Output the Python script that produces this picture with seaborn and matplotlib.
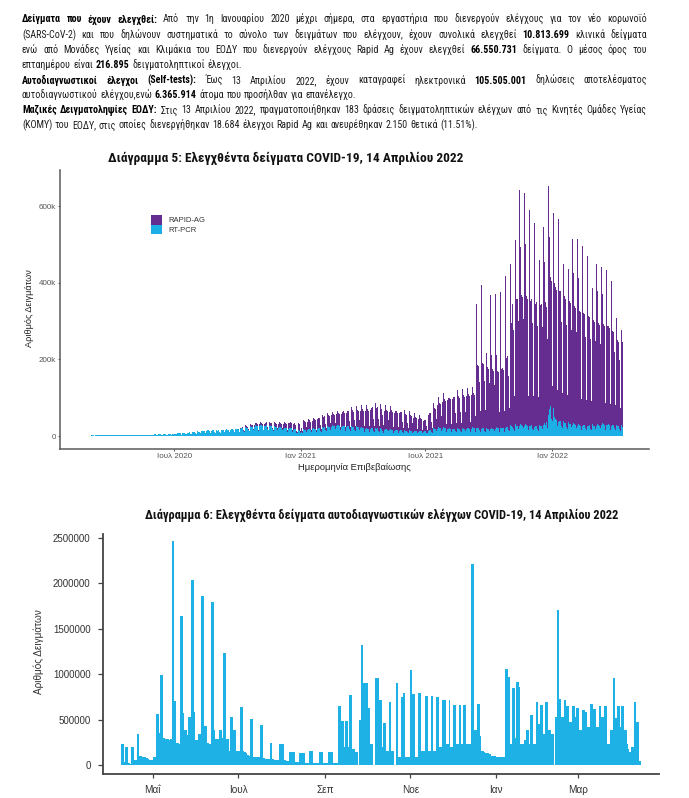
import numpy as np
import pandas as pd
import matplotlib
matplotlib.use("Agg")
import matplotlib.pyplot as plt
import seaborn as sns
from matplotlib import font_manager as fm
from matplotlib.patches import Patch

# ------------------------------------------------------------------ data
# Chart 5: daily tests (thousands), one row per week (Mon..Sun)
chart5_start = "2020-02-24"
pcr_weeks = [
    [0, 0, 0.8, 1.0, 1.2, 0.9, 0.8],            # 2020-02-24
    [1.3, 1.5, 1.5, 1.6, 1.5, 1.3, 1.2],
    [1.6, 1.8, 1.8, 1.9, 1.7, 1.5, 1.4],
    [1.8, 2.0, 1.9, 2.0, 1.9, 1.6, 1.5],
    [1.9, 2.1, 2.0, 2.1, 2.0, 1.6, 1.5],
    [2.0, 2.2, 2.1, 2.2, 2.0, 1.7, 1.5],
    [2.0, 2.3, 2.2, 2.3, 2.1, 1.7, 1.6],
    [2.1, 2.4, 2.3, 2.4, 2.2, 1.8, 1.6],
    [2.2, 2.5, 2.4, 2.5, 2.3, 1.8, 1.7],
    [2.3, 2.6, 2.5, 2.6, 2.4, 1.9, 1.7],
    [2.4, 2.8, 2.6, 2.7, 2.5, 1.8, 1.6],          # 2020-05-04
    [2.7, 3.1, 2.9, 3.0, 2.8, 2.0, 1.6],
    [3.0, 3.4, 3.2, 3.3, 3.1, 2.2, 1.7],
    [3.3, 3.8, 3.5, 3.6, 3.4, 2.4, 1.9],
    [3.8, 4.3, 4.0, 4.2, 3.9, 2.8, 2.2],
    [4.2, 4.8, 4.4, 4.6, 4.3, 3.1, 2.4],
    [4.6, 5.2, 4.8, 5.0, 4.7, 3.4, 2.6],
    [5.0, 5.8, 5.3, 5.5, 5.2, 3.7, 2.9],
    [5.5, 6.3, 5.8, 6.0, 5.7, 4.1, 3.2],
    [6.6, 7.6, 7.0, 7.3, 6.9, 4.9, 3.8],          # 2020-07-06
    [7.5, 11.0, 8.0, 8.4, 7.9, 5.6, 4.4],
    [8.5, 9.8, 9.0, 9.4, 8.8, 6.3, 5.0],
    [9.5, 10.9, 10.0, 10.4, 9.8, 7.0, 5.5],
    [10.5, 12.0, 11.0, 11.5, 10.8, 7.7, 6.0],
    [12.0, 13.7, 12.5, 13.0, 12.3, 8.8, 6.9],
    [13.3, 15.3, 14.0, 14.6, 13.7, 9.8, 7.7],
    [14.3, 16.4, 15.0, 15.6, 14.7, 10.5, 8.3],
    [13.3, 15.3, 14.0, 14.6, 13.7, 9.8, 7.7],     # 2020-08-31
    [14.3, 16.4, 15.0, 15.6, 14.7, 10.5, 8.3],
    [15.0, 17.5, 16.0, 16.6, 15.7, 11.2, 8.8],
    [16.0, 18.6, 17.0, 17.7, 16.7, 11.9, 9.4],
    [17.0, 19.7, 18.0, 18.7, 17.6, 12.6, 9.9],
    [19.0, 21.9, 20.0, 20.8, 19.6, 14.0, 11.0],   # 2020-10-05
    [21.0, 24.0, 22.0, 22.9, 21.6, 15.4, 12.1],
    [23.0, 26.2, 24.0, 25.0, 23.5, 16.8, 13.2],
    [24.7, 28.4, 26.0, 27.0, 25.5, 18.2, 14.3],
    [25.6, 29.5, 27.0, 28.0, 26.5, 18.9, 14.8],   # 2020-11-02
    [25.6, 29.5, 27.0, 28.0, 26.5, 18.9, 14.8],
    [23.7, 27.3, 25.0, 26.0, 24.5, 17.5, 13.7],
    [22.8, 26.2, 24.0, 25.0, 23.5, 16.8, 13.2],
    [21.0, 24.0, 22.0, 22.9, 21.6, 15.4, 12.1],   # 2020-11-30
    [19.0, 21.9, 20.0, 20.8, 19.6, 14.0, 11.0],
    [19.0, 21.9, 20.0, 20.8, 19.6, 14.0, 11.0],
    [16.0, 18.6, 17.0, 17.7, 13.0, 8.0, 7.0],
    [13.0, 15.3, 14.0, 10.0, 8.0, 9.8, 7.7],
    [15.0, 17.5, 16.0, 16.6, 15.7, 11.2, 8.8],    # 2021-01-04
    [16.0, 18.6, 17.0, 17.7, 16.7, 11.9, 9.4],
    [17.0, 19.7, 18.0, 18.7, 17.6, 12.6, 9.9],
    [19.0, 21.9, 20.0, 20.8, 19.6, 14.0, 11.0],
    [21.0, 24.0, 22.0, 22.9, 21.6, 15.4, 12.1],   # 2021-02-01
    [23.0, 26.2, 24.0, 25.0, 23.5, 16.8, 13.2],
    [24.7, 28.4, 26.0, 27.0, 25.5, 18.2, 14.3],
    [25.6, 29.5, 27.0, 28.0, 26.5, 18.9, 14.8],
    [24.7, 28.4, 26.0, 27.0, 25.5, 18.2, 14.3],   # 2021-03-01
    [23.7, 27.3, 25.0, 26.0, 24.5, 17.5, 13.7],
    [22.8, 26.2, 24.0, 25.0, 23.5, 16.8, 13.2],
    [21.9, 25.2, 23.0, 23.9, 22.5, 16.1, 12.6],
    [20.0, 23.0, 21.0, 21.8, 20.6, 14.7, 11.5],
    [17.0, 20.7, 18.0, 18.7, 17.6, 12.6, 9.9],    # 2021-04-05
    [19.0, 21.9, 20.0, 20.8, 19.6, 14.0, 11.0],
    [18.0, 20.7, 19.0, 19.8, 18.6, 13.3, 10.4],
    [17.0, 20.7, 18.0, 18.7, 14.0, 9.0, 8.0],
    [16.0, 19.5, 17.0, 17.7, 16.7, 11.9, 9.4],    # 2021-05-03
    [15.2, 18.4, 16.0, 16.6, 15.7, 11.2, 8.8],
    [14.2, 17.2, 15.0, 15.6, 14.7, 10.5, 8.3],
    [14.2, 17.2, 15.0, 15.6, 14.7, 10.5, 8.3],
    [13.3, 16.1, 14.0, 14.6, 13.7, 9.8, 7.7],     # 2021-05-31
    [12.3, 15.0, 13.0, 13.5, 12.7, 9.1, 7.2],
    [11.4, 13.8, 12.0, 12.5, 11.8, 8.4, 6.6],
    [11.4, 13.8, 12.0, 12.5, 11.8, 8.4, 6.6],
    [11.4, 13.8, 12.0, 12.5, 11.8, 8.4, 6.6],
    [14.2, 17.2, 15.0, 15.6, 14.7, 10.5, 8.3],    # 2021-07-05
    [17.0, 20.7, 18.0, 18.7, 17.6, 12.6, 9.9],
    [19.0, 23.0, 20.0, 20.8, 19.6, 14.0, 11.0],
    [19.0, 23.0, 20.0, 20.8, 19.6, 14.0, 11.0],
    [18.0, 21.8, 19.0, 19.8, 18.6, 13.3, 10.4],   # 2021-08-02
    [17.0, 20.7, 18.0, 18.7, 17.6, 12.6, 9.9],
    [17.0, 20.7, 18.0, 18.7, 17.6, 12.6, 9.9],
    [17.0, 20.7, 18.0, 18.7, 17.6, 12.6, 9.9],
    [18.0, 21.8, 19.0, 19.8, 18.6, 13.3, 10.4],
    [19.0, 23.0, 20.0, 20.8, 19.6, 14.0, 11.0],   # 2021-09-06
    [20.0, 24.2, 21.0, 21.8, 20.6, 14.7, 11.5],
    [19.0, 23.0, 20.0, 20.8, 19.6, 14.0, 11.0],
    [18.0, 21.8, 19.0, 19.8, 18.6, 13.3, 10.4],
    [18.0, 21.8, 19.0, 19.8, 18.6, 13.3, 10.4],   # 2021-10-04
    [19.0, 23.0, 20.0, 20.8, 19.6, 14.0, 11.0],
    [20.0, 24.2, 21.0, 21.8, 20.6, 14.7, 11.5],
    [21.9, 26.5, 23.0, 23.9, 22.5, 16.1, 12.6],
    [23.8, 28.8, 25.0, 26.0, 24.5, 17.5, 13.7],   # 2021-11-01
    [25.6, 31.0, 27.0, 28.0, 26.5, 18.9, 14.8],
    [26.6, 32.2, 28.0, 29.1, 27.4, 19.6, 15.4],
    [26.6, 32.2, 28.0, 29.1, 27.4, 19.6, 15.4],
    [25.6, 31.0, 27.0, 28.0, 26.5, 18.9, 14.8],
    [24.7, 29.9, 26.0, 27.0, 25.5, 18.2, 14.3],   # 2021-12-06
    [24.7, 29.9, 26.0, 27.0, 25.5, 18.2, 14.3],
    [28.5, 34.5, 30.0, 31.2, 36.0, 22.0, 25.0],
    [55.0, 70.0, 85.0, 78.0, 45.0, 30.0, 40.0],
    [72.0, 60.0, 50.0, 45.0, 42.0, 30.0, 25.0],   # 2022-01-03
    [36.1, 43.7, 38.0, 39.5, 37.2, 26.6, 20.9],
    [32.3, 39.1, 34.0, 35.4, 33.3, 23.8, 18.7],
    [30.4, 36.8, 32.0, 33.3, 31.4, 22.4, 17.6],
    [28.5, 34.5, 30.0, 31.2, 29.4, 21.0, 16.5],   # 2022-01-31
    [26.6, 32.2, 28.0, 29.1, 27.4, 19.6, 15.4],
    [26.6, 32.2, 28.0, 29.1, 27.4, 19.6, 15.4],
    [25.6, 31.0, 27.0, 28.0, 26.5, 18.9, 14.8],
    [25.6, 31.0, 27.0, 28.0, 26.5, 18.9, 14.8],   # 2022-02-28
    [26.6, 32.2, 28.0, 29.1, 27.4, 19.6, 15.4],
    [28.5, 34.5, 30.0, 31.2, 29.4, 21.0, 16.5],
    [28.5, 34.5, 30.0, 31.2, 29.4, 21.0, 16.5],
    [26.6, 32.2, 28.0, 29.1, 27.4, 19.6, 15.4],
    [23.8, 28.8, 25.0, 26.0, 24.5, 17.5, 13.7],   # 2022-04-04
    [22.8, 27.6, 24.0, 25.0],
]

rapid_start = "2020-10-05"
rapid_weeks = [
    [2, 3, 2, 3, 2, 1, 1],                         # 2020-10-05
    [3, 4, 3, 4, 3, 2, 1],
    [4, 5, 4, 5, 4, 2, 1],
    [5, 6, 5, 6, 5, 3, 2],
    [6, 8, 7, 7, 6, 3, 2],                         # 2020-11-02
    [7, 9, 8, 8, 7, 4, 2],
    [8, 10, 9, 9, 8, 4, 3],
    [9, 11, 10, 10, 9, 5, 3],
    [11, 13, 12, 12, 11, 6, 3],                    # 2020-11-30
    [12, 15, 13, 14, 12, 7, 4],
    [14, 17, 15, 15, 14, 8, 4],
    [15, 18, 16, 12, 6, 6, 4],
    [16, 19, 17, 8, 5, 12, 6],
    [20, 24, 22, 22, 20, 12, 6],                   # 2021-01-04
    [21, 26, 23, 23, 21, 12, 6],
    [23, 28, 25, 25, 23, 13, 7],
    [25, 30, 27, 27, 25, 14, 7],
    [26, 32, 28, 28, 26, 15, 8],                   # 2021-02-01
    [28, 34, 30, 30, 28, 16, 8],
    [29, 35, 31, 31, 29, 17, 9],
    [31, 37, 33, 33, 31, 18, 9],
    [34, 42, 37, 37, 34, 20, 10],                  # 2021-03-01
    [37, 46, 40, 40, 37, 22, 11],
    [40, 50, 43, 43, 40, 24, 12],
    [43, 54, 46, 46, 43, 26, 13],
    [45, 57, 48, 48, 45, 27, 14],
    [48, 60, 50, 52, 48, 29, 15],                  # 2021-04-05
    [50, 63, 53, 54, 50, 30, 15],
    [52, 65, 55, 56, 52, 31, 16],
    [50, 62, 53, 54, 40, 20, 14],
    [48, 62, 51, 52, 48, 29, 15],                  # 2021-05-03
    [47, 60, 50, 50, 47, 28, 14],
    [46, 58, 49, 49, 46, 27, 14],
    [45, 56, 47, 47, 45, 27, 13],
    [42, 53, 44, 44, 42, 25, 12],                  # 2021-05-31
    [40, 50, 42, 42, 40, 24, 12],
    [36, 45, 38, 38, 36, 21, 11],
    [32, 40, 34, 34, 32, 19, 10],
    [28, 36, 30, 30, 28, 17, 9],
    [40, 52, 44, 45, 42, 25, 12],                  # 2021-07-05
    [52, 66, 56, 57, 54, 32, 15],
    [62, 78, 66, 67, 64, 38, 18],
    [70, 88, 74, 75, 72, 42, 20],
    [76, 94, 80, 80, 77, 46, 22],                  # 2021-08-02
    [80, 98, 84, 84, 80, 48, 23],
    [82, 100, 86, 86, 82, 49, 24],
    [84, 102, 88, 88, 84, 50, 24],
    [86, 104, 90, 90, 86, 52, 25],
    [88, 105, 91, 92, 88, 55, 40],                 # 2021-09-06
    [325, 190, 165, 162, 160, 125, 55],
    [375, 200, 170, 168, 165, 130, 58],
    [368, 195, 160, 158, 155, 125, 55],
    [350, 190, 155, 152, 150, 120, 55],            # 2021-10-04
    [352, 188, 150, 150, 148, 118, 52],
    [355, 195, 155, 156, 152, 122, 55],
    [395, 230, 180, 185, 175, 140, 60],
    [610, 420, 270, 300, 320, 260, 90],            # 2021-11-01
    [634, 480, 330, 335, 330, 280, 95],
    [615, 460, 335, 340, 335, 285, 95],
    [607, 470, 330, 335, 330, 280, 90],
    [564, 480, 325, 330, 325, 275, 90],
    [531, 440, 318, 322, 318, 268, 88],            # 2021-12-06
    [529, 430, 315, 320, 318, 265, 88],
    [516, 420, 320, 330, 300, 230, 80],
    [597, 450, 331, 338, 360, 280, 90],
    [511, 430, 350, 345, 340, 280, 95],            # 2022-01-03
    [530, 420, 340, 338, 335, 270, 90],
    [496, 410, 330, 328, 325, 265, 88],
    [464, 400, 320, 318, 315, 255, 85],
    [486, 390, 310, 308, 305, 250, 82],            # 2022-01-31
    [488, 380, 300, 298, 295, 245, 80],
    [470, 370, 292, 290, 288, 240, 78],
    [443, 360, 285, 283, 280, 235, 76],
    [469, 355, 275, 272, 270, 228, 75],            # 2022-02-28
    [421, 345, 268, 265, 262, 220, 72],
    [412, 335, 262, 260, 258, 215, 70],
    [405, 330, 258, 255, 252, 210, 68],
    [377, 310, 245, 242, 240, 200, 65],
    [378, 280, 225, 220, 215, 180, 60],            # 2022-04-04
    [310, 250, 220, 180],
]

series_labels = ["RAPID-AG", "RT-PCR"]
chart5_tick_dates = ["2020-07-01", "2021-01-01", "2021-07-01", "2022-01-01"]
chart5_tick_labels = ["Ιουλ 2020", "Ιαν 2021", "Ιουλ 2021", "Ιαν 2022"]
chart5_yticks = [0, 200000, 400000, 600000]
chart5_ytick_labels = ["0", "200k", "400k", "600k"]

# Chart 6: daily self-tests (thousands) from 2021-04-09, rows of 10 days
chart6_start = "2021-04-09"
selftests = [
    232, 232, 30, 196, 196, 20, 15, 196, 196, 60,
    55, 343, 343, 100, 96, 92, 88, 84, 80, 63,
    58, 55, 50, 87, 87, 561, 561, 350, 985, 985,
    295, 290, 284, 284, 280, 284, 2461, 2461, 701, 240,
    240, 235, 1635, 1635, 572, 387, 387, 330, 524, 524,
    2040, 2040, 579, 277, 277, 343, 343, 1863, 1863, 424,
    424, 240, 240, 235, 1790, 1790, 389, 283, 283, 283,
    389, 389, 300, 1236, 1236, 284, 284, 150, 524, 524,
    389, 389, 150, 150, 150, 638, 638, 150, 140, 130,
    110, 100, 506, 506, 90, 90, 88, 85, 85, 443,
    443, 75, 72, 70, 68, 65, 238, 238, 62, 60,
    58, 55, 55, 232, 232, 232, 50, 50, 48, 48,
    148, 148, 148, 148, 30, 30, 30, 130, 130, 130,
    130, 25, 25, 25, 150, 150, 150, 20, 20, 20,
    20, 145, 145, 145, 20, 20, 20, 20, 145, 145,
    145, 20, 20, 20, 20, 650, 650, 483, 483, 200,
    483, 483, 196, 768, 768, 177, 177, 140, 140, 0,
    498, 1317, 1317, 897, 900, 900, 631, 631, 232, 232,
    0, 952, 952, 952, 720, 720, 200, 461, 461, 150,
    150, 697, 697, 150, 150, 0, 904, 904, 85, 85,
    749, 793, 793, 85, 85, 85, 1044, 1044, 786, 786,
    85, 85, 793, 793, 150, 150, 150, 756, 756, 150,
    150, 756, 756, 150, 150, 749, 749, 200, 200, 712,
    712, 712, 232, 232, 712, 200, 200, 660, 660, 232,
    232, 660, 660, 232, 660, 660, 232, 232, 232, 232,
    2207, 2207, 380, 380, 668, 668, 314, 159, 159, 145,
    130, 130, 128, 125, 103, 103, 100, 100, 92, 92,
    92, 92, 92, 92, 1055, 1055, 970, 970, 232, 845,
    845, 300, 908, 908, 860, 232, 232, 232, 280, 380,
    380, 232, 546, 546, 232, 232, 697, 697, 454, 657,
    657, 336, 336, 690, 690, 380, 380, 336, 336, 0,
    528, 1708, 1708, 731, 528, 528, 712, 712, 646, 646,
    472, 472, 646, 646, 528, 631, 631, 380, 380, 609,
    609, 583, 583, 420, 420, 675, 675, 620, 620, 420,
    420, 653, 653, 528, 528, 646, 646, 232, 232, 380,
    380, 952, 952, 517, 653, 653, 420, 653, 653, 380,
    380, 232, 177, 148, 196, 196, 694, 694, 472, 472,
    48,
]
chart6_tick_dates = ["2021-05-01", "2021-07-01", "2021-09-01",
                     "2021-11-01", "2022-01-01", "2022-03-01"]
chart6_tick_labels = ["Μαΐ", "Ιουλ", "Σεπ", "Νοε", "Ιαν", "Μαρ"]
chart6_yticks = [0, 500000, 1000000, 1500000, 2000000, 2500000]

# Texts
title5 = "Διάγραμμα 5: Ελεγχθέντα δείγματα COVID-19, 14 Απριλίου 2022"
title6 = "Διάγραμμα 6: Ελεγχθέντα δείγματα αυτοδιαγνωστικών ελέγχων COVID-19, 14 Απριλίου 2022"
ylabel_text = "Αριθμός Δειγμάτων"
xlabel5 = "Ημερομηνία Επιβεβαίωσης"
paragraph = [
    ([("Δείγματα που έχουν ελεγχθεί:", True),
      ("Από την 1η Ιανουαρίου 2020 μέχρι σήμερα, στα εργαστήρια που διενεργούν ελέγχους για τον νέο κορωνοϊό", False)], True),
    ([("(SARS-CoV-2) και που δηλώνουν συστηματικά το σύνολο των δειγμάτων που ελέγχουν, έχουν συνολικά ελεγχθεί", False),
      ("10.813.699", True), ("κλινικά δείγματα", False)], True),
    ([("ενώ από Μονάδες Υγείας και Κλιμάκια του ΕΟΔΥ που διενεργούν ελέγχους Rapid Ag έχουν ελεγχθεί", False),
      ("66.550.731", True), ("δείγματα.  Ο μέσος όρος του", False)], True),
    ([("επταημέρου είναι", False), ("216.895", True), ("δειγματοληπτικοί έλεγχοι.", False)], False),
    ([("Αυτοδιαγνωστικοί έλεγχοι (Self-tests):", True),
      ("Έως 13 Απριλίου 2022, έχουν καταγραφεί ηλεκτρονικά", False),
      ("105.505.001", True), ("δηλώσεις αποτελέσματος", False)], True),
    ([("αυτοδιαγνωστικού ελέγχου,ενώ", False), ("6.365.914", True),
      ("άτομα που προσήλθαν για επανέλεγχο.", False)], False),
    ([("Μαζικές Δειγματοληψίες ΕΟΔΥ:", True),
      ("Στις 13 Απριλίου 2022, πραγματοποιήθηκαν 183 δράσεις δειγματοληπτικών ελέγχων από τις Κινητές Ομάδες Υγείας", False)], True),
    ([("(ΚΟΜΥ) του ΕΟΔΥ, στις οποίες διενεργήθηκαν 18.684 έλεγχοι Rapid Ag και ανευρέθηκαν 2.150 θετικά (11.51%).", False)], False),
]

PURPLE = "#662D91"
BLUE = "#1BAFE6"
BLUE6 = "#1DB1E6"

# ------------------------------------------------------------------ fonts
names = {f.name for f in fm.fontManager.ttflist}
NARROW = next((n for n in ["Liberation Sans Narrow", "DejaVu Sans Condensed",
                           "Roboto Condensed", "Roboto"] if n in names), "DejaVu Sans")
plt.rcParams["font.family"] = ["Liberation Sans", "DejaVu Sans"]

# ------------------------------------------------------------------ frames
pcr = np.array([v for wk in pcr_weeks for v in wk]) * 1000.0
dates5 = pd.date_range(chart5_start, periods=len(pcr), freq="D")
rapid = np.array([v for wk in rapid_weeks for v in wk]) * 1000.0
rdates = pd.date_range(rapid_start, periods=len(rapid), freq="D")
df5 = pd.DataFrame({"date": dates5, "RT-PCR": pcr})
df5 = df5.merge(pd.DataFrame({"date": rdates, "RAPID-AG": rapid}), on="date", how="left").fillna(0)
df5["day"] = (df5["date"] - df5["date"].iloc[0]).dt.days
df5["total"] = df5["RT-PCR"] + df5["RAPID-AG"]

df6 = pd.DataFrame({"date": pd.date_range(chart6_start, periods=len(selftests), freq="D"),
                    "value": np.array(selftests) * 1000.0})
df6["day"] = (df6["date"] - df6["date"].iloc[0]).dt.days

# ------------------------------------------------------------------ figure
W, H = 689, 798
fig = plt.figure(figsize=(W / 100, H / 100), dpi=100, facecolor="white")
renderer = fig.canvas.get_renderer()


def fx(x):
    return x / W


def fy(y):
    return 1 - y / H


def fit_text(x, y, s, length_px, size0=8, rotation=0, **kw):
    t = fig.text(fx(x), fy(y), s, fontsize=size0, rotation=rotation, **kw)
    bb = t.get_window_extent(renderer)
    cur = bb.height if rotation == 90 else bb.width
    t.set_fontsize(size0 * length_px / cur)
    return t


# paragraph with inline bold runs, justified lines
def draw_paragraph(lines, x0, x1, baselines, size0):
    built = []
    for runs, justify in lines:
        toks = []
        for text, bold in runs:
            for w in text.split():
                toks.append(fig.text(0, 0, w, fontsize=size0, family=[NARROW, "DejaVu Sans"],
                                     fontweight="bold" if bold else "normal",
                                     color="#000000" if bold else "#1e1e1e",
                                     ha="left", va="baseline"))
        built.append((toks, justify))

    def widths(toks):
        return [t.get_window_extent(renderer).width for t in toks]

    target = x1 - x0
    sp = size0 * 100 / 72 * 0.26
    nat = [sum(widths(tk)) + sp * (len(tk) - 1) for tk, j in built if j]
    f = min(1.15, max(0.6, 0.985 * target / max(nat)))
    size = size0 * f
    sp *= f
    for (toks, justify), yb in zip(built, baselines):
        for t in toks:
            t.set_fontsize(size)
        ws = widths(toks)
        gap = (target - sum(ws)) / (len(toks) - 1) if (justify and len(toks) > 1) else sp
        x = x0
        for t, w in zip(toks, ws):
            t.set_position((fx(x), fy(yb)))
            x += w + gap


draw_paragraph(paragraph, 22, 647, [22.5, 38.3, 53.3, 68.3, 84.0, 98.3, 113.3, 128.3], 7.0)

# ------------------------------------------------------------------ chart 5
ax5 = fig.add_axes([fx(60), fy(449), 589 / W, 279 / H])
sns.barplot(x=df5["day"], y=df5["total"], native_scale=True, width=1, color=PURPLE,
            saturation=1, errorbar=None, linewidth=0, edgecolor="none", ax=ax5)
sns.barplot(x=df5["day"], y=df5["RT-PCR"], native_scale=True, width=1, color=BLUE,
            saturation=1, errorbar=None, linewidth=0, edgecolor="none", ax=ax5)
for p in ax5.patches:
    p.set_antialiased(False)
ax5.set_xlim(-37.8, 817.8)
ax5.set_ylim(-33900, 694000)
start5 = pd.Timestamp(chart5_start)
ax5.set_xticks([(pd.Timestamp(d) - start5).days for d in chart5_tick_dates])
ax5.set_xticklabels(chart5_tick_labels)
ax5.set_yticks(chart5_yticks)
ax5.set_yticklabels(chart5_ytick_labels)
ax5.set_xlabel("")
ax5.set_ylabel("")
sns.despine(ax=ax5)
for s in ["left", "bottom"]:
    ax5.spines[s].set_color("#5a5a5a")
    ax5.spines[s].set_linewidth(1.1)
ax5.tick_params(axis="both", length=1.6, width=0.6, color="#444444",
                labelsize=5.8, labelcolor="#555555", pad=1.5)
ax5.set_facecolor("white")
ax5.legend(handles=[Patch(facecolor=PURPLE, edgecolor="none", label=series_labels[0]),
                    Patch(facecolor=BLUE, edgecolor="none", label=series_labels[1])],
           loc="upper left", bbox_to_anchor=(fx(150.7), fy(215)), bbox_transform=fig.transFigure,
           frameon=False, borderpad=0, borderaxespad=0, handlelength=1.44, handleheight=1.57,
           labelspacing=0.0, handletextpad=0.88, prop={"size": 5.5}, labelcolor="#333333")

fit_text(108, 158, title5, 351, size0=9, family=[NARROW, "DejaVu Sans"], fontweight="bold",
         ha="left", va="center", color="#111111")
fit_text(29, 308, ylabel_text, 77, size0=7, rotation=90, ha="center", va="center", color="#222222")
fit_text(354, 467, xlabel5, 113, size0=7, ha="center", va="center", color="#222222")

# ------------------------------------------------------------------ chart 6
ax6 = fig.add_axes([fx(102.5), fy(774), (659 - 102.5) / W, (774 - 534) / H])
sns.barplot(x=df6["day"], y=df6["value"], native_scale=True, width=1, color=BLUE6,
            saturation=1, errorbar=None, linewidth=0, edgecolor="none", ax=ax6)
for p in ax6.patches:
    p.set_antialiased(False)
ax6.set_xlim(-13.9, 383.6)
ax6.set_ylim(-99000, 2541000)
start6 = pd.Timestamp(chart6_start)
ax6.set_xticks([(pd.Timestamp(d) - start6).days for d in chart6_tick_dates])
ax6.set_xticklabels(chart6_tick_labels)
ax6.set_yticks(chart6_yticks)
ax6.set_yticklabels([str(v) for v in chart6_yticks])
ax6.set_xlabel("")
ax6.set_ylabel("")
sns.despine(ax=ax6)
for s in ["left", "bottom"]:
    ax6.spines[s].set_color("#444444")
    ax6.spines[s].set_linewidth(1.3)
ax6.tick_params(axis="y", length=3.6, width=0.9, color="#444444", labelsize=7,
                labelcolor="#333333", pad=5.0)
ax6.tick_params(axis="x", length=3.1, width=0.9, color="#444444", labelsize=7.2,
                labelcolor="#333333", pad=4.5)
ax6.set_facecolor("white")

fit_text(145, 515, title6, 472, size0=9, family=[NARROW, "DejaVu Sans"], fontweight="bold",
         ha="left", va="center", color="#111111")
fit_text(39, 652, ylabel_text, 85, size0=7, rotation=90, ha="center", va="center", color="#333333")

fig.savefig("out.png", dpi=100, facecolor="white")
